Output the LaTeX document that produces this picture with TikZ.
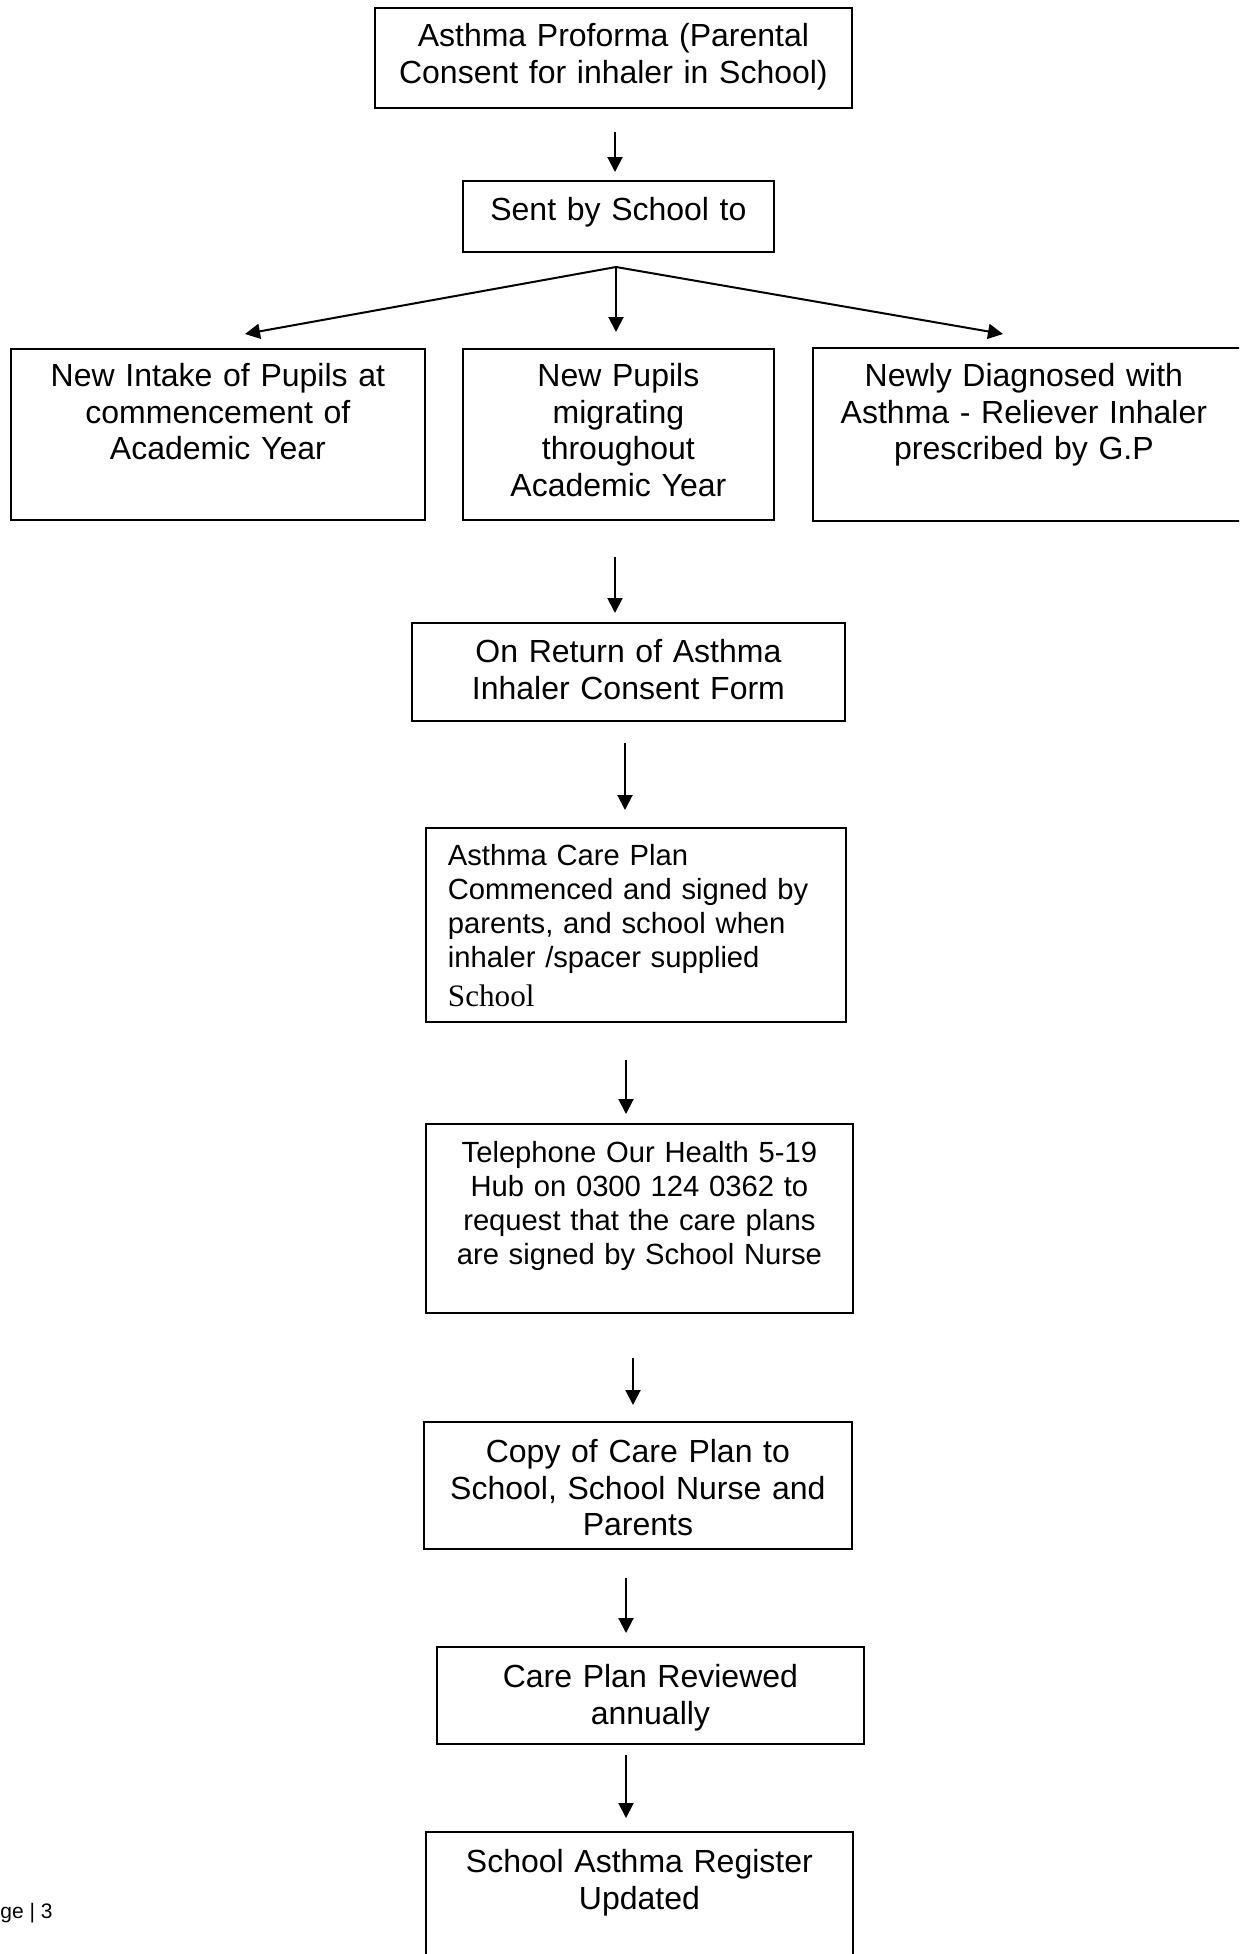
\documentclass[tikz,border=0pt]{standalone}
\usepackage{fontspec}
\setmainfont{Liberation Sans}
\newfontfamily\serifpart{Liberation Serif}
\usetikzlibrary{arrows.meta}

\newcommand{\mainsize}{\fontsize{16}{18.2}\selectfont}
\newcommand{\notesize}{\fontsize{14.6}{17}\selectfont}

\tikzset{
  flowbox/.style={draw, line width=0.9pt, inner xsep=0pt, inner ysep=0pt,
    anchor=north west, align=center, font=\mainsize},
  flow/.style={line width=1pt, -{Triangle[length=7.5pt,width=7.5pt]}}
}

\begin{document}
\begin{tikzpicture}[x=0.5pt,y=-0.5pt]
		\useasboundingbox (0,0) rectangle (1239,1954);
		\clip (0,0) rectangle (1239,1954);
		% top of the chart
		\node[flowbox, text width=238.5pt, text height=19.5pt, text depth=30.5pt] (proforma) at (374,7)
			{Asthma Proforma (Parental\\Consent for inhaler in School)};
		\node[flowbox, text width=155.5pt, text height=20pt, text depth=15.5pt] (sent) at (462,180)
			{Sent by School to};
		% three groups of pupils
		\node[flowbox, text width=207pt, text height=19pt, text depth=66.5pt] (intake) at (10,348)
			{New Intake of Pupils at\\commencement of\\Academic Year};
		\node[flowbox, text width=155.5pt, text height=19pt, text depth=66.5pt] (migrate) at (462,348)
			{New Pupils\\migrating\\throughout\\Academic Year};
		\node[flowbox, draw=none, text width=210pt, text height=19pt, text depth=66.5pt] (diagnosed) at (813,348)
			{Newly Diagnosed with\\Asthma - Reliever Inhaler\\prescribed by G.P};
		\draw[line width=0.9pt] (diagnosed.north west) rectangle ([xshift=25pt]diagnosed.south east);
		% main column
		\node[flowbox, text width=216.5pt, text height=20pt, text depth=29pt] (return) at (411,622)
			{On Return of Asthma\\Inhaler Consent Form};
		\node[flowbox, align=left, inner xsep=11pt, text width=188pt, text height=19pt, text depth=78pt, font=\notesize] (careplan) at (425,827)
			{Asthma Care Plan\\Commenced and signed by\\parents, and school when\\inhaler /spacer supplied\\[2.2pt]{\serifpart\fontsize{15.6}{17}\selectfont School}};
		\node[flowbox, text width=213.5pt, text height=19.5pt, text depth=75pt, font=\notesize] (phone) at (425,1123)
			{Telephone Our Health 5-19\\Hub on 0300 124 0362 to\\request that the care plans\\are signed by School Nurse};
		\node[flowbox, text width=214pt, text height=20.5pt, text depth=43pt] (copy) at (423,1421)
			{Copy of Care Plan to\\School, School Nurse and\\Parents};
		\node[flowbox, text width=213.5pt, text height=20.5pt, text depth=28pt] (review) at (436,1646)
			{Care Plan Reviewed\\annually};
		\node[flowbox, text width=213.5pt, text height=20.5pt, text depth=50pt] (register) at (425,1831)
			{School Asthma Register\\Updated};
		% page number
		\node[anchor=base west, inner sep=0pt, font=\fontsize{10.5}{12}\selectfont] (pagenum) at (0,1918) {ge | 3};
		% arrows
		\coordinate (s1) at (615,132);  \coordinate (e1) at (615,172);
		\coordinate (fork) at (616,267);
		\coordinate (eleft) at (245,334); \coordinate (emid) at (616,332); \coordinate (eright) at (1003,334);
		\coordinate (s2) at (615,557);  \coordinate (e2) at (615,613);
		\coordinate (s3) at (625,743);  \coordinate (e3) at (625,810);
		\coordinate (s4) at (626,1060); \coordinate (e4) at (626,1114);
		\coordinate (s5) at (633,1358); \coordinate (e5) at (633,1405);
		\coordinate (s6) at (626,1578); \coordinate (e6) at (626,1633);
		\coordinate (s7) at (626,1755); \coordinate (e7) at (626,1818);
		\draw[flow] (s1) -- (e1);
		\draw[flow] (fork) -- (eleft);
		\draw[flow] (fork) -- (emid);
		\draw[flow] (fork) -- (eright);
		\draw[flow] (s2) -- (e2);
		\draw[flow] (s3) -- (e3);
		\draw[flow] (s4) -- (e4);
		\draw[flow] (s5) -- (e5);
		\draw[flow] (s6) -- (e6);
		\draw[flow] (s7) -- (e7);
	\end{tikzpicture}
\end{document}
